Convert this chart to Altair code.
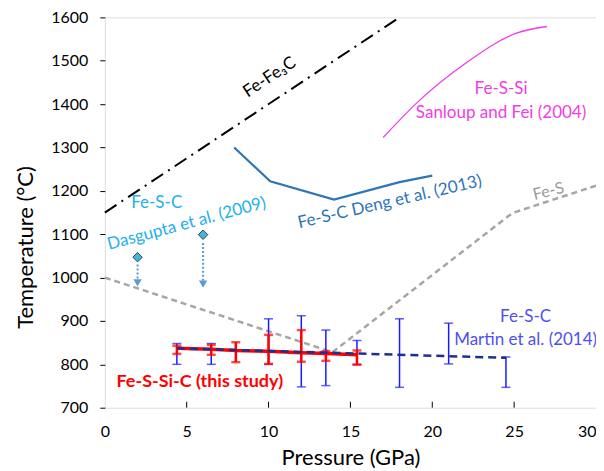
import altair as alt
import pandas as pd

# ---- data ----
x_ticks = [0, 5, 10, 15, 20, 25, 30]
y_ticks = [700, 800, 900, 1000, 1100, 1200, 1300, 1400, 1500, 1600]

fefe3c_p = [0, 18.0]
fefe3c_t = [1150, 1600]

deng_p = [7.9, 10.1, 14.0, 18.0, 20.0]
deng_t = [1300, 1222, 1180, 1220, 1235]

sanloup_p = [17.0, 19.2, 22.1, 25.1, 27.0]
sanloup_t = [1323, 1408, 1496, 1563, 1579]

fes_p = [0, 13.9, 24.9, 30]
fes_t = [1000, 828, 1149, 1212]

dasgupta_p = [2, 6]
dasgupta_t = [1047, 1099]
arrow_top = [1030, 1080]
arrow_tip = [988, 985]

martin_p = [4.4, 6.5, 10.0, 12.0, 13.5, 15.4, 18.0, 21.0, 24.5]
martin_lo = [800, 800, 800, 748, 751, 800, 747, 801, 747]
martin_hi = [848, 848, 905, 912, 879, 855, 905, 895, 817]
martin_fit_p = [4.4, 24.5]
martin_fit_t = [837, 815]

study_p = [4.4, 6.5, 8.0, 10.0, 12.0, 13.5, 15.4]
study_t = [837, 835, 832, 830, 827, 825, 822]
study_lo = [824, 822, 805, 801, 806, 808, 799]
study_hi = [843, 845, 851, 868, 879, 830, 832]

FONT = "Lato"

xscale = alt.Scale(domain=[0, 30], nice=False, zero=False)
yscale = alt.Scale(domain=[700, 1600], nice=False, zero=False)
xaxis = alt.Axis(values=x_ticks, title="Pressure (GPa)", grid=False, domain=False,
                 ticks=False, labelPadding=16, labelFontSize=16, labelColor="#000",
                 labelAlign={"expr": "datum.value == 30 ? 'right' : 'center'"},
                 labelFont=FONT, titleFont=FONT, titleFontSize=22, titleFontWeight="normal",
                 titleColor="#000", titleBaseline="alphabetic", titleY=57, labelFlush=False)
yaxis = alt.Axis(values=y_ticks, title="Temperature (°C)", grid=False, domain=False,
                 format="d",
                 ticks=True, tickSize=5, tickColor="#000", labelPadding=12, labelFontSize=16,
                 labelColor="#000", labelFont=FONT, titleFont=FONT, titleFontSize=22,
                 titleFontWeight="normal", titleColor="#000", titleX=-79, titleY=230,
                 titleBaseline="middle", titleAngle=270, labelFlush=False)


def X(f):
    return alt.X(f, type="quantitative", scale=xscale, axis=xaxis)


def Y(f):
    return alt.Y(f, type="quantitative", scale=yscale, axis=yaxis)


def line(p, t, **mk):
    d = pd.DataFrame({"p": p, "t": t})
    return alt.Chart(d).mark_line(**mk).encode(x=X("p"), y=Y("t"))


def label(text, p, t, color, size=17, angle=0, weight="normal"):
    d = pd.DataFrame({"p": [p], "t": [t], "s": [text]})
    return alt.Chart(d).mark_text(font=FONT, fontSize=size, color=color, angle=angle,
                                  fontWeight=weight, align="center", baseline="middle").encode(
        x=X("p"), y=Y("t"), text="s:N")


# bottom axis ticks pointing inward
tick_df = pd.DataFrame({"p": x_ticks[1:-1]})
xticks_layer = alt.Chart(tick_df).mark_rule(color="#000", strokeWidth=1).encode(
    x=X("p"), y=alt.value(385), y2=alt.value(391))

fefe3c = line(fefe3c_p, fefe3c_t, color="#000", strokeWidth=2, strokeDash=[14, 6, 2, 6])
deng = line(deng_p, deng_t, color="#2e75b6", strokeWidth=2.2)
sanloup = line(sanloup_p, sanloup_t, color="#f03ce6", strokeWidth=1.3, interpolate="monotone")
fes = line(fes_p, fes_t, color="#a6a6a6", strokeWidth=2.5, strokeDash=[6, 4])

arrow_df = pd.DataFrame({"p": dasgupta_p, "a": arrow_top, "b": arrow_tip})
arrows = alt.Chart(arrow_df).mark_rule(color="#5b9bd5", strokeWidth=2, strokeDash=[2, 2]).encode(
    x=X("p"), y=Y("a"), y2="b")
heads = alt.Chart(arrow_df).mark_point(shape="triangle-down", filled=True, color="#5b9bd5",
                                       size=70, opacity=1).encode(x=X("p"), y=Y("b"))
das_df = pd.DataFrame({"p": dasgupta_p, "t": dasgupta_t})
diamonds = alt.Chart(das_df).mark_point(shape="diamond", filled=True, fill="#3cb8e0",
                                        stroke="#404040", strokeWidth=1, size=90,
                                        opacity=1).encode(x=X("p"), y=Y("t"))

m_df = pd.DataFrame({"p": martin_p, "lo": martin_lo, "hi": martin_hi})
m_bars = alt.Chart(m_df).mark_rule(color="#1a1aff", strokeWidth=1.5).encode(
    x=X("p"), y=Y("lo"), y2="hi")
m_cap_lo = alt.Chart(m_df).mark_tick(color="#1a1aff", orient="horizontal", size=9,
                                     thickness=1.5).encode(x=X("p"), y=Y("lo"))
m_cap_hi = alt.Chart(m_df).mark_tick(color="#1a1aff", orient="horizontal", size=9,
                                     thickness=1.5).encode(x=X("p"), y=Y("hi"))

s_df = pd.DataFrame({"p": study_p, "t": study_t, "lo": study_lo, "hi": study_hi})
s_line = alt.Chart(s_df).mark_line(color="#ff0000", strokeWidth=3.5).encode(x=X("p"), y=Y("t"))
s_bars = alt.Chart(s_df).mark_rule(color="#ff0000", strokeWidth=2.5).encode(
    x=X("p"), y=Y("lo"), y2="hi")
s_cap_lo = alt.Chart(s_df).mark_tick(color="#ff0000", orient="horizontal", size=9,
                                     thickness=2.5).encode(x=X("p"), y=Y("lo"))
s_cap_hi = alt.Chart(s_df).mark_tick(color="#ff0000", orient="horizontal", size=9,
                                     thickness=2.5).encode(x=X("p"), y=Y("hi"))

m_fit = line(martin_fit_p, martin_fit_t, color="#1f2f8f", strokeWidth=2.5, strokeDash=[8, 5])

labels = [
    label("Fe-Fe₃C", 10.06, 1462, "#000", 17, 326.5),
    label("Fe-S-C Deng et al. (2013)", 17.4, 1174, "#2e75b6", 17, 347),
    label("Fe-S-Si", 24.2, 1434, "#f03ce6", 17),
    label("Sanloup and Fei (2004)", 24.2, 1379, "#f03ce6", 17),
    label("Fe-S-C", 3.17, 1172, "#22b0ee", 17),
    label("Dasgupta et al. (2009)", 5.0, 1124, "#22b0ee", 17, 345),
    label("Fe-S", 27.1, 1199, "#999999", 16, 346),
    label("Fe-S-C", 25.7, 909, "#4f4fef", 17),
    label("Martin et al. (2014)", 25.7, 856, "#4f4fef", 17),
    label("Fe-S-Si-C (this study)", 5.8, 760, "#ff0000", 18, 0, "bold"),
]

chart = alt.layer(
    fefe3c, fes, deng, sanloup, arrows, heads, diamonds,
    m_bars, m_cap_lo, m_cap_hi, s_line, s_bars, s_cap_lo, s_cap_hi, m_fit,
    xticks_layer, *labels
).properties(
    width=492, height=391,
    autosize=alt.AutoSizeParams(type="none"),
    padding={"left": 97, "top": 9, "right": 0, "bottom": 62},
).configure_view(
    stroke="#000", strokeWidth=1.3
).configure(background="white")

chart.save("out.html", embed_options={"renderer": "svg", "actions": False})
